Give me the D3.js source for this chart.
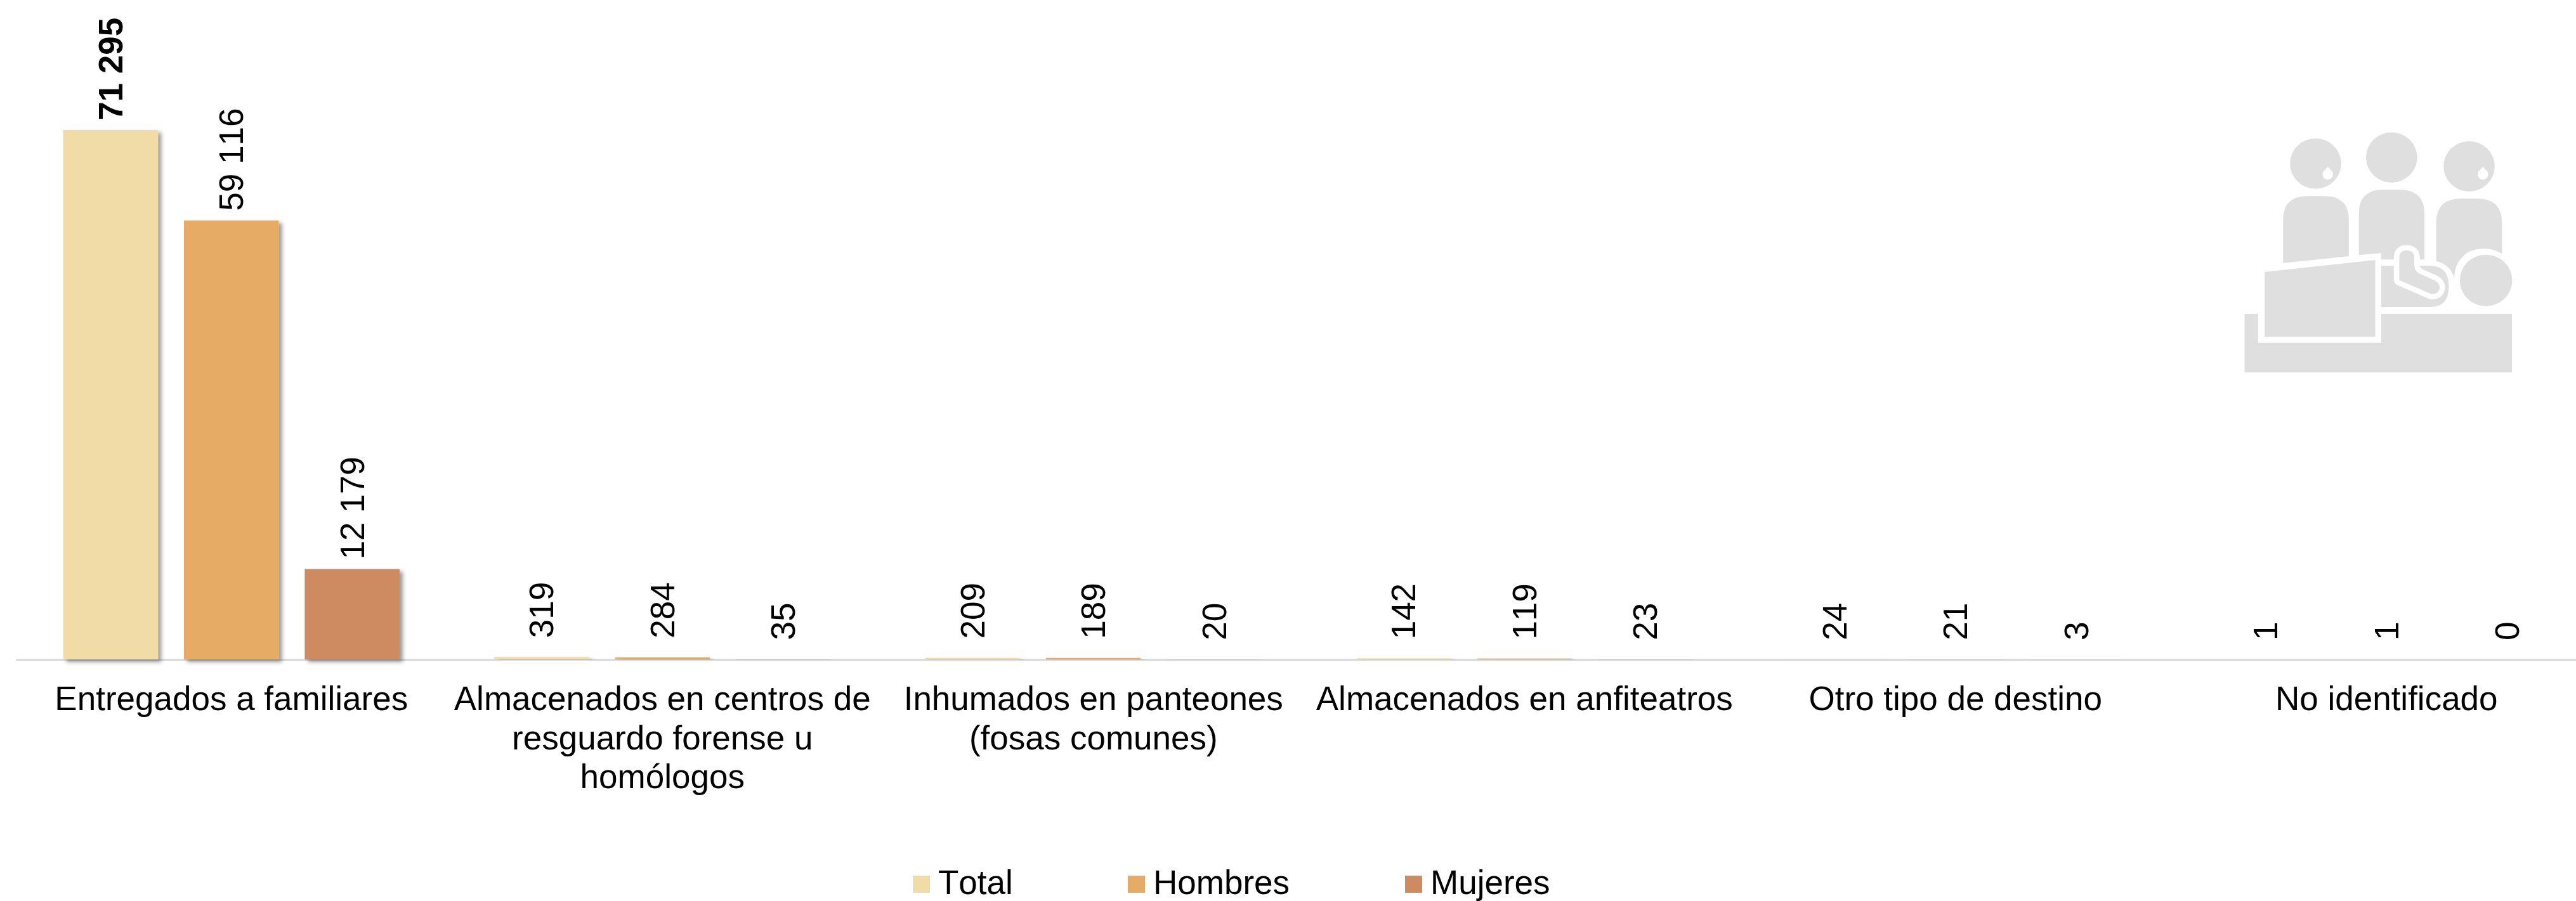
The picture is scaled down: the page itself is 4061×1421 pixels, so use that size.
<!DOCTYPE html>
<html>
<head>
<meta charset="utf-8">
<script src="https://cdn.jsdelivr.net/npm/d3@7"></script>
<style>
    html, body { margin: 0; padding: 0; background: #fff; }
    svg { display: block; }
    text { font-family: "Liberation Sans", Arial, sans-serif; fill: #000; font-kerning: none; }
</style>
</head>
<body>
<div id="visualization"></div>
<script>
const categories = [
    "Entregados a familiares",
    "Almacenados en centros de|resguardo forense u|homólogos",
    "Inhumados en panteones|(fosas comunes)",
    "Almacenados en anfiteatros",
    "Otro tipo de destino",
    "No identificado"
];
const seriesNames = ["Total", "Hombres", "Mujeres"];
const total = [71295, 319, 209, 142, 24, 1];
const hombres = [59116, 284, 189, 119, 21, 1];
const mujeres = [12179, 35, 20, 23, 3, 0];
const seriesColors = ["#f1dca7", "#e6ac65", "#ce8a61"];

function createDestinoChart() {
    const width = 4061, height = 1421, baseline = 1040;
    const fontSize = 53;

    const svg = d3.select("#visualization")
        .append("svg")
        .attr("width", width)
        .attr("height", height);

    const shadow = svg.append("defs").append("filter")
        .attr("id", "bar-shadow")
        .attr("x", "-10%").attr("y", "-10%")
        .attr("width", "125%").attr("height", "125%");
    shadow.append("feDropShadow")
        .attr("dx", 5).attr("dy", 4)
        .attr("stdDeviation", 3)
        .attr("flood-color", "#000")
        .attr("flood-opacity", 0.4);

    const x0 = d3.scaleBand().domain(categories).range([25, 4102]);
    const x1 = d3.scaleBand().domain(seriesNames)
        .range([0, x0.bandwidth()])
        .paddingInner(0.215)
        .paddingOuter(0.392);
    const y = d3.scaleLinear().domain([0, 71295]).range([baseline, 205]);

    const rows = categories.map((c, i) => ({
        category: c,
        values: [total[i], hombres[i], mujeres[i]].map((v, j) => ({series: seriesNames[j], value: v}))
    }));

    // Eje
    const xAxis = svg.append("g")
        .attr("transform", `translate(0,${baseline})`)
        .call(d3.axisBottom(x0).tickSize(0).tickFormat(""));
    xAxis.select(".domain").attr("stroke", "#d9d9d9").attr("stroke-width", 3);

    xAxis.selectAll(".tick text").each(function(d) {
        const label = d3.select(this).text(null)
            .attr("y", 0).attr("dy", null)
            .attr("font-size", fontSize)
            .attr("font-family", null)
            .attr("text-anchor", "middle");
        d.split("|").forEach((line, i) => {
            label.append("tspan")
                .attr("x", 0)
                .attr("y", 80 + i * 61.5)
                .text(line);
        });
    });

    const colorOf = d3.scaleOrdinal().domain(seriesNames).range(seriesColors);
    const fmt = d3.formatLocale({thousands: " ", grouping: [3], decimal: ".", currency: ["", ""]}).format(",d");

    const groups = svg.selectAll(".grupo")
        .data(rows)
        .enter()
        .append("g")
        .attr("class", "grupo")
        .attr("transform", d => `translate(${x0(d.category)},0)`);

    groups.selectAll("rect")
        .data(d => d.values)
        .enter()
        .append("rect")
        .attr("x", d => x1(d.series))
        .attr("y", d => y(d.value))
        .attr("width", x1.bandwidth())
        .attr("height", d => baseline - y(d.value))
        .attr("fill", d => colorOf(d.series))
        .attr("filter", "url(#bar-shadow)");

    // Etiquetas: mas pegadas a la barra cuando la barra es alta
    const labelGap = d => d.value > 10000 ? 15 : 30;

    groups.selectAll(".valor")
        .data(d => d.values)
        .enter()
        .append("text")
        .attr("class", "valor")
        .attr("transform", d => `translate(${x1(d.series) + x1.bandwidth() / 2},${y(d.value) - labelGap(d)}) rotate(-90)`)
        .attr("dy", "0.35em")
        .attr("font-size", fontSize)
        .attr("font-weight", d => d.value === 71295 ? "bold" : "normal")
        .text(d => fmt(d.value));

    // Leyenda
    const legendX = [1439, 1778, 2215];
    const legend = svg.selectAll(".leyenda")
        .data(seriesNames)
        .enter()
        .append("g")
        .attr("class", "leyenda")
        .attr("transform", (d, i) => `translate(${legendX[i]},1381)`);
    legend.append("rect")
        .attr("width", 27).attr("height", 27)
        .attr("fill", d => colorOf(d));
    legend.append("text")
        .attr("x", 40).attr("y", 28.5)
        .attr("font-size", fontSize)
        .text(d => d);

    drawIcon(svg);
}

function drawIcon(svg) {
    const grey = "#dfdfdf";
    const icon = svg.append("g")
        .attr("transform", "translate(3480,180) scale(0.3444,0.3333)")
        .attr("fill", grey);

    [[495, 234], [843, 205], [1198, 247]].forEach(h => {
        icon.append("ellipse").attr("cx", h[0]).attr("cy", h[1]).attr("rx", 117).attr("ry", 119);
    });
    [551, 1261].forEach(tx => {
        icon.append("path")
            .attr("fill", "#fff")
            .attr("d", `M${tx},248 Q${tx + 10},262 ${tx + 20},270 A24,26 0 1 1 ${tx - 20},270 Q${tx - 10},262 ${tx},248 Z`);
    });

    icon.append("path").attr("d", "M346,705 V500 Q346,388 458,388 H535 Q647,388 647,500 V672 Z");
    icon.append("path").attr("d", "M693,667 V470 Q693,358 805,358 H880 Q993,358 993,470 V688 H795 V658 Z");
    icon.append("path").attr("d", "M795,718 H1020 Q1105,720 1105,815 Q1105,912 1020,912 H795 Z");
    icon.append("path")
        .attr("d", "M878,785 V680 Q878,645 912,645 Q947,645 947,680 V715 Q947,745 975,757 L1040,787 Q1063,800 1063,820 Q1060,852 1025,852 Z")
        .attr("stroke", "#fff")
        .attr("stroke-width", 50)
        .attr("stroke-linejoin", "round")
        .attr("paint-order", "stroke");
    icon.append("path").attr("d", "M1047,695 V515 Q1047,400 1160,400 H1235 Q1348,400 1348,515 V660 Q1270,615 1190,655 Q1130,700 1130,775 Q1110,710 1047,695 Z");
    icon.append("ellipse").attr("cx", 1275).attr("cy", 787).attr("rx", 120).attr("ry", 122);
    icon.append("path").attr("d", "M262,747 L768,690 V1053 H262 Z");
    icon.append("path").attr("d", "M170,945 H232 V1082 H795 V945 H1394 V1222 H170 Z");
}

createDestinoChart();
</script>
</body>
</html>
